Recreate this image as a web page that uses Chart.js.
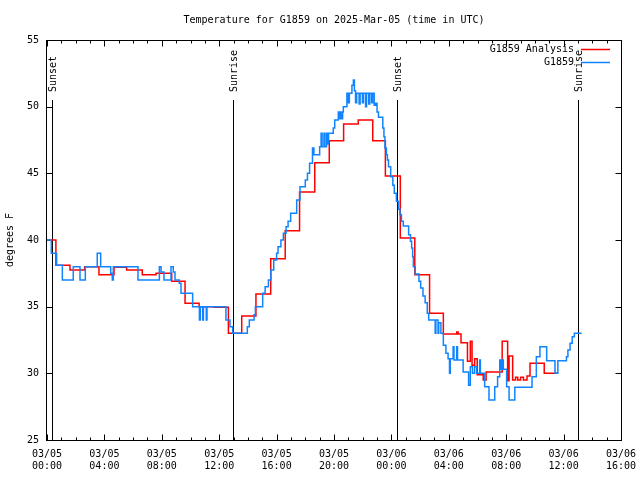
<!DOCTYPE html>
<html>
<head>
<meta charset="utf-8">
<script src="https://cdn.jsdelivr.net/npm/chart.js@4.4.1/dist/chart.umd.min.js"></script>
<style>
html, body { margin: 0; padding: 0; background: #fff; }
</style>
</head>
<body>
<canvas id="tempChart" width="640" height="480"></canvas>
<script>
// hours since 03/05 00:00 UTC
var analysisHours = [0, 0.62, 1.6, 2.62, 3.62, 4.67, 5.55, 6.64, 7.6, 8.69, 9.62, 10.6, 11.64, 12.64, 13.57, 14.56, 15.59, 16.6, 17.6, 18.66, 19.67, 20.67, 21.69, 22.7, 23.58, 24.62, 25.63, 26.66, 27.62, 28.55, 28.65, 28.85, 29.3, 29.5, 29.62, 29.8, 29.98, 30.4, 30.6, 31.72, 32.1, 32.2, 32.45, 32.65, 32.8, 33.0, 33.2, 33.45, 33.66, 34.65, 35.6]
var analysisTemps = [40.0, 38.1, 37.75, 38.0, 37.4, 37.95, 37.75, 37.4, 37.5, 36.9, 35.25, 35.0, 34.95, 33.0, 34.3, 35.95, 38.6, 40.7, 43.6, 45.8, 47.45, 48.7, 49.0, 47.45, 44.8, 40.15, 37.4, 34.5, 32.95, 33.1, 32.95, 32.3, 30.9, 32.4, 30.6, 31.1, 29.9, 29.5, 30.1, 32.4, 29.45, 31.3, 29.5, 29.7, 29.5, 29.7, 29.5, 29.8, 30.75, 30.0, 30.0]

var obsHours = [0, 0.3, 0.67, 1.07, 1.83, 2.3, 2.67, 3.5, 3.74, 4.44, 4.55, 4.62, 6.34, 7.83, 7.95, 8.15, 8.64, 8.8, 8.92, 9.22, 9.34, 10.15, 10.62, 10.68, 10.85, 10.9, 11.1, 11.15, 12.47, 12.75, 12.94, 13.96, 14.1, 14.43, 14.52, 15.03, 15.2, 15.43, 15.6, 15.8, 16.0, 16.1, 16.3, 16.47, 16.66, 16.8, 16.98, 17.4, 17.63, 18.0, 18.15, 18.3, 18.5, 18.6, 19.0, 19.1, 19.17, 19.3, 19.36, 19.48, 19.55, 19.62, 19.95, 20.05, 20.3, 20.37, 20.45, 20.52, 20.6, 20.65, 20.9, 21.0, 21.07, 21.25, 21.35, 21.42, 21.5, 21.58, 21.75, 21.82, 21.98, 22.05, 22.2, 22.27, 22.42, 22.49, 22.62, 22.69, 22.8, 22.9, 23.0, 23.1, 23.4, 23.48, 23.55, 23.65, 23.72, 23.8, 23.95, 24.1, 24.2, 24.35, 24.5, 24.6, 24.7, 24.83, 25.2, 25.33, 25.41, 25.48, 25.53, 25.66, 25.92, 26.04, 26.2, 26.35, 26.5, 26.6, 27.05, 27.1, 27.25, 27.3, 27.45, 27.62, 27.8, 27.95, 28.05, 28.1, 28.3, 28.36, 28.55, 28.61, 29.0, 29.38, 29.5, 29.65, 29.8, 29.95, 30.15, 30.2, 30.5, 30.8, 31.2, 31.4, 31.55, 31.65, 31.72, 31.8, 32.03, 32.2, 32.6, 33.8, 34.1, 34.35, 34.82, 35.4, 35.6, 36.2, 36.3, 36.45, 36.6, 36.75, 37.26]
var obsTemps = [40.0, 39.0, 38.1, 37.0, 38.0, 37.0, 38.0, 39.0, 38.0, 37.5, 37.0, 38.0, 37.0, 38.0, 37.6, 37.0, 38.0, 37.6, 37.0, 36.75, 36.0, 35.0, 34.0, 35.0, 34.0, 35.0, 34.0, 35.0, 34.0, 33.5, 33.0, 33.5, 34.0, 34.4, 35.0, 36.0, 36.5, 37.0, 37.75, 38.5, 39.0, 39.5, 40.0, 40.5, 41.0, 41.4, 42.0, 43.0, 44.0, 44.5, 45.0, 45.75, 46.9, 46.4, 47.0, 48.0, 47.0, 48.0, 47.0, 48.0, 47.2, 48.0, 48.4, 49.0, 49.6, 49.1, 49.6, 49.1, 49.6, 50.0, 51.0, 50.3, 51.0, 51.6, 52.0, 51.2, 50.3, 51.0, 50.2, 51.0, 50.3, 51.0, 50.0, 51.0, 50.2, 51.0, 50.3, 51.0, 50.1, 50.25, 49.6, 49.2, 48.4, 47.75, 46.9, 46.4, 46.0, 45.5, 44.75, 44.1, 43.5, 42.9, 42.3, 41.9, 41.4, 41.05, 40.4, 39.9, 39.4, 38.75, 38.0, 37.45, 36.9, 36.4, 35.8, 35.3, 34.5, 34.0, 33.0, 34.0, 33.0, 33.8, 33.0, 32.1, 31.5, 31.1, 30.0, 31.1, 32.0, 31.0, 32.0, 31.0, 30.1, 29.1, 30.5, 30.0, 30.5, 30.0, 31.0, 30.0, 29.0, 28.0, 29.0, 29.75, 31.0, 30.3, 31.0, 30.3, 29.0, 28.0, 28.95, 29.75, 31.25, 32.0, 30.95, 30.0, 30.95, 31.25, 31.75, 32.25, 32.75, 33.0, 33.0]

var sunHours = [0.33, 12.98, 24.39, 36.98]
var sunLabels = ["Sunset", "Sunrise", "Sunset", "Sunrise"]

var tickHours = [0, 4, 8, 12, 16, 20, 24, 28, 32, 36, 40]
var tickDates = ["03/05", "03/05", "03/05", "03/05", "03/05", "03/05", "03/06", "03/06", "03/06", "03/06", "03/06"]
var tickTimes = ["00:00", "04:00", "08:00", "12:00", "16:00", "20:00", "00:00", "04:00", "08:00", "12:00", "16:00"]

var monoFont = "'DejaVu Sans Mono', 'Liberation Mono', monospace"
Chart.defaults.color = '#000'
Chart.defaults.font.family = monoFont
Chart.defaults.font.size = 10

function toPoints(xs, ys) {
    var pts = []
    for (var i = 0; i < xs.length; i++) {
        pts.push({x: xs[i], y: ys[i]})
    }
    return pts
}

// gnuplot style box, inward ticks, sunrise/sunset markers
var framePlugin = {
    id: 'frame',
    beforeDatasetsDraw: function(chart) {
        var ctx = chart.ctx
        var a = chart.chartArea
        var xs = chart.scales.x
        var ys = chart.scales.y
        var h = a.bottom - a.top
        ctx.save()
        ctx.strokeStyle = '#000'
        ctx.fillStyle = '#000'
        ctx.lineWidth = 1

        // sun lines
        ctx.font = '10px ' + monoFont
        for (var i = 0; i < sunHours.length; i++) {
            var px = Math.round(xs.getPixelForValue(sunHours[i])) + 0.5
            ctx.beginPath()
            ctx.moveTo(px, a.top + h * 0.15)
            ctx.lineTo(px, a.bottom)
            ctx.stroke()
            ctx.save()
            ctx.translate(px + 1, a.top + h * 0.13)
            ctx.rotate(-Math.PI / 2)
            ctx.textAlign = 'left'
            ctx.textBaseline = 'middle'
            ctx.fillText(sunLabels[i], 0, 0)
            ctx.restore()
        }

        // box
        var l = Math.round(a.left) - 0.5, r = Math.round(a.right) + 0.5
        var t = Math.round(a.top) + 0.5, b = Math.round(a.bottom) + 0.5
        ctx.strokeRect(l, t, r - l, b - t)

        // x ticks every hour, major every 4
        ctx.beginPath()
        for (var hr = xs.min; hr <= xs.max; hr++) {
            var x = Math.round(xs.getPixelForValue(hr)) + 0.5
            var len = (hr % 4 == 0) ? 6 : 3
            ctx.moveTo(x, b); ctx.lineTo(x, b - len)
            ctx.moveTo(x, t); ctx.lineTo(x, t + len)
        }
        for (var v = ys.min; v <= ys.max; v += 5) {
            var y = Math.round(ys.getPixelForValue(v)) + 0.5
            ctx.moveTo(l, y); ctx.lineTo(l + 6, y)
            ctx.moveTo(r, y); ctx.lineTo(r - 6, y)
        }
        ctx.stroke()
        ctx.restore()
    },
    afterDraw: function(chart) {
        var ctx = chart.ctx
        var a = chart.chartArea
        var items = chart.data.datasets
        ctx.save()
        ctx.font = '10px ' + monoFont
        ctx.textAlign = 'right'
        ctx.textBaseline = 'middle'
        for (var i = 0; i < items.length; i++) {
            var y = Math.round(a.top + 9 + i * 13) + 0.5
            ctx.fillStyle = '#000'
            ctx.fillText(items[i].label, a.right - 47, y)
            ctx.strokeStyle = items[i].borderColor
            ctx.lineWidth = 1.5
            ctx.beginPath()
            ctx.moveTo(a.right - 40, y)
            ctx.lineTo(a.right - 11, y)
            ctx.stroke()
        }
        ctx.restore()
    }
}

var ctx = document.getElementById('tempChart').getContext('2d')
var tempChart = new Chart(ctx, {
    type: 'line',
    data: {
        datasets: [{
            label: 'G1859 Analysis',
            data: toPoints(analysisHours, analysisTemps),
            borderColor: '#ff0000',
            borderWidth: 1.5,
            stepped: true,
            pointRadius: 0,
            fill: false,
            order: 1
        }, {
            label: 'G1859',
            data: toPoints(obsHours, obsTemps),
            borderColor: '#1084ff',
            borderWidth: 1.5,
            stepped: true,
            pointRadius: 0,
            fill: false,
            order: 0
        }]
    },
    options: {
        responsive: false,
        animation: false,
        events: [],
        layout: {
            padding: {left: 0, right: 19, top: 0, bottom: 0}
        },
        scales: {
            x: {
                type: 'linear',
                min: 0,
                max: 40,
                grid: {display: false, drawTicks: false},
                border: {display: false},
                afterBuildTicks: function(scale) {
                    scale.ticks = tickHours.map(function(v) { return {value: v} })
                },
                afterFit: function(scale) {
                    scale.height = 40
                    scale.paddingLeft = 0
                    scale.paddingRight = 0
                },
                ticks: {
                    padding: 8,
                    maxRotation: 0,
                    autoSkip: false,
                    font: {size: 10, lineHeight: 1.25},
                    callback: function(value, index) {
                        return [tickDates[index], tickTimes[index]]
                    }
                }
            },
            y: {
                min: 25,
                max: 55,
                grid: {display: false, drawTicks: false},
                border: {display: false},
                afterFit: function(scale) { scale.width = 47 },
                ticks: {
                    stepSize: 5,
                    padding: 8
                },
                title: {
                    display: true,
                    text: 'degrees F',
                    font: {size: 10, lineHeight: 1.2},
                    padding: {top: 4, bottom: 0}
                }
            }
        },
        plugins: {
            legend: {display: false},
            tooltip: {enabled: false},
            title: {
                display: true,
                text: 'Temperature for G1859 on 2025-Mar-05 (time in UTC)',
                fullSize: false,
                font: {size: 10, weight: 'normal', lineHeight: 1.2},
                color: '#000',
                padding: {top: 14, bottom: 14}
            }
        }
    },
    plugins: [framePlugin]
});
</script>
</body>
</html>
